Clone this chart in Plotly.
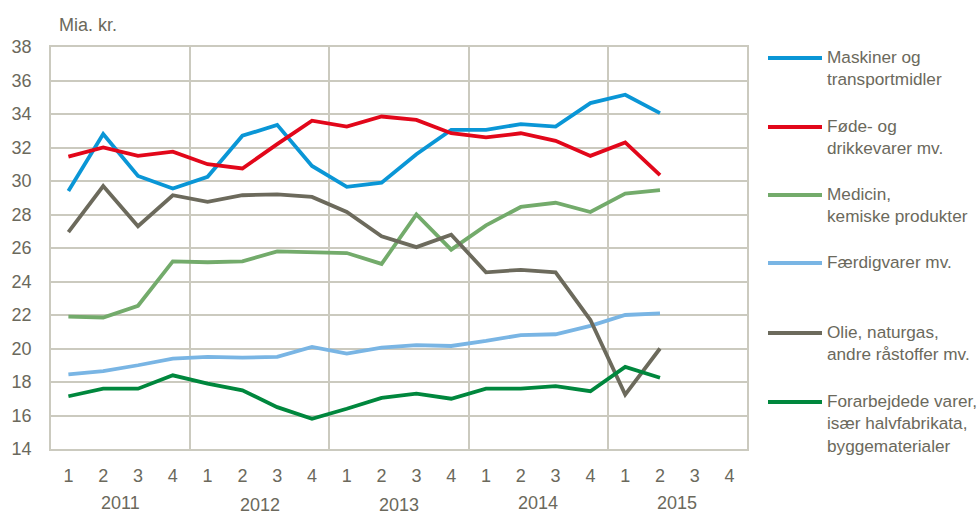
import plotly.graph_objects as go

# ---- data ----
quarter_labels = ["1", "2", "3", "4", "1", "2", "3", "4", "1", "2", "3", "4",
                  "1", "2", "3", "4", "1", "2", "3", "4"]
years = ["2011", "2012", "2013", "2014", "2015"]

series_names = [
    "Maskiner og<br>transportmidler",
    "Føde- og<br>drikkevarer mv.",
    "Medicin,<br>kemiske produkter",
    "Færdigvarer mv.",
    "Olie, naturgas,<br>andre råstoffer mv.",
    "Forarbejdede varer,<br>især halvfabrikata,<br>byggematerialer",
]

maskiner = [29.4, 32.8, 30.3, 29.55, 30.25, 32.7, 33.35, 30.9, 29.65, 29.9,
            31.6, 33.05, 33.05, 33.4, 33.25, 34.65, 35.15, 34.05]
foede = [31.45, 32.0, 31.5, 31.75, 31.0, 30.75, 32.2, 33.6, 33.25, 33.85,
         33.65, 32.85, 32.6, 32.85, 32.4, 31.5, 32.3, 30.35]
medicin = [21.9, 21.85, 22.55, 25.2, 25.15, 25.2, 25.8, 25.75, 25.7, 25.05,
           28.0, 25.9, 27.35, 28.45, 28.7, 28.15, 29.25, 29.45]
faerdig = [18.45, 18.65, 19.0, 19.4, 19.5, 19.45, 19.5, 20.1, 19.7, 20.05,
           20.2, 20.15, 20.45, 20.8, 20.85, 21.35, 22.0, 22.1]
olie = [26.95, 29.7, 27.3, 29.15, 28.75, 29.15, 29.2, 29.05, 28.15, 26.7,
        26.05, 26.8, 24.55, 24.7, 24.55, 21.7, 17.25, 20.0]
forarb = [17.15, 17.6, 17.6, 18.4, 17.9, 17.5, 16.5, 15.8, 16.4, 17.05,
          17.3, 17.0, 17.6, 17.6, 17.75, 17.45, 18.9, 18.25]

all_series = [maskiner, foede, medicin, faerdig, olie, forarb]
colors = ["#0a96d6", "#e2071a", "#73ab6b", "#79b5e4", "#6c6a5c", "#00873d"]

# ---- styling ----
W, H = 979, 515
L, R, T, B = 51, 232, 47, 66
FONT = "Liberation Sans, Arial, sans-serif"
TXT = "#6b695c"
GRID = "#cbcabf"
FS = 18
FS_LEG = 17.2

plot_w = W - L - R
plot_h = H - T - B


def px_x(x):
    return (x - L) / plot_w


def px_y(y):
    return (H - B - y) / plot_h


fig = go.Figure()
for name, vals, col in zip(series_names, all_series, colors):
    fig.add_trace(go.Scatter(
        x=list(range(len(vals))), y=vals, mode="lines", name=name,
        line=dict(color=col, width=3.8), showlegend=False,
        hoverinfo="skip"))

# year labels
year_y = [503, 505, 505, 503, 503]
for i, (yr, yy) in enumerate(zip(years, year_y)):
    fig.add_annotation(x=i * 4 + 1.5, xref="x", y=px_y(yy), yref="paper",
                       text=yr, showarrow=False, yanchor="middle",
                       font=dict(family=FONT, size=FS, color=TXT))

# unit label
fig.add_annotation(x=px_x(57), xref="paper", y=px_y(25), yref="paper",
                   text="Mia. kr.", showarrow=False, xanchor="left",
                   yanchor="middle", font=dict(family=FONT, size=FS, color=TXT))

# manual legend
leg_y = [58, 127, 195, 263, 333, 402]
for name, col, ly in zip(series_names, colors, leg_y):
    fig.add_shape(type="line", xref="paper", yref="paper",
                  x0=px_x(768), x1=px_x(822), y0=px_y(ly), y1=px_y(ly),
                  line=dict(color=col, width=3.8))
    fig.add_annotation(x=px_x(825), xref="paper", y=px_y(ly - 13), yref="paper",
                       text=name, showarrow=False, xanchor="left",
                       yanchor="top", align="left",
                       font=dict(family=FONT, size=FS_LEG, color=TXT))

fig.update_layout(
    width=W, height=H,
    margin=dict(l=L, r=R, t=T, b=B, pad=0),
    paper_bgcolor="white", plot_bgcolor="white",
    font=dict(family=FONT, size=FS, color=TXT),
    xaxis=dict(
        range=[-0.5, 19.5], tickmode="array", automargin=False,
        tickvals=list(range(len(quarter_labels))), ticktext=quarter_labels,
        showgrid=False, zeroline=False, ticks="", ticklabelstandoff=10,
        showline=True, linecolor=GRID, linewidth=1.5, mirror=True,
        minor=dict(tick0=-0.5, dtick=4, showgrid=True, gridcolor=GRID,
                   gridwidth=1.5, ticks=""),
        tickfont=dict(family=FONT, size=FS, color=TXT),
    ),
    yaxis=dict(
        range=[14, 38], dtick=2, tick0=14, showgrid=True, gridcolor=GRID,
        gridwidth=1.5, zeroline=False, ticks="", ticklabelstandoff=14,
        automargin=False,
        showline=True, linecolor=GRID, linewidth=1.5, mirror=True,
        tickfont=dict(family=FONT, size=FS, color=TXT),
    ),
)

fig.write_html("out.html",
               config={"displayModeBar": False},
               post_script="document.body.style.margin='0';"
                           "document.body.style.overflow='hidden';")
